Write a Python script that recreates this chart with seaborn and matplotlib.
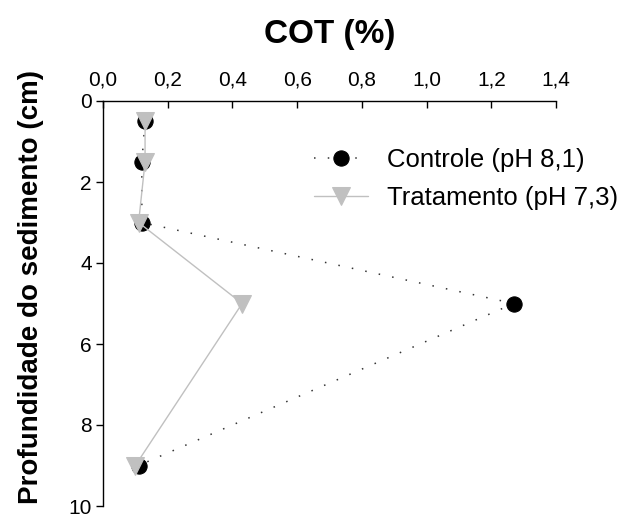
import matplotlib
matplotlib.use("Agg")
import matplotlib.pyplot as plt
import seaborn as sns
import pandas as pd

depth = [0.5, 1.5, 3, 5, 9]
cot_controle = [0.13, 0.12, 0.12, 1.27, 0.11]
cot_tratamento = [0.13, 0.13, 0.11, 0.43, 0.10]
labels = ["Controle (pH 8,1)", "Tratamento (pH 7,3)"]
xticks = [0.0, 0.2, 0.4, 0.6, 0.8, 1.0, 1.2, 1.4]
yticks = [0, 2, 4, 6, 8, 10]

sns.set_style("white")
plt.rcParams['font.family'] = ['Liberation Sans', 'DejaVu Sans']
plt.rcParams['text.color'] = 'black'
plt.rcParams['axes.labelcolor'] = 'black'

fig = plt.figure(figsize=(6.24, 5.15), dpi=100)
ax = fig.add_axes([103/624, 1 - 506/515, (556-103)/624, (506-101)/515])

df_c = pd.DataFrame({"x": cot_controle, "y": depth})
df_t = pd.DataFrame({"x": cot_tratamento, "y": depth})

sns.lineplot(data=df_c, x="x", y="y", orient="y", estimator=None, ax=ax,
             color="#333333", linestyle=(0, (1, 8)), linewidth=1.1,
             marker="o", markersize=11, markerfacecolor="black",
             markeredgecolor="black", label=labels[0])
sns.lineplot(data=df_t, x="x", y="y", orient="y", estimator=None, ax=ax,
             color="#c0c0c0", linestyle="-", linewidth=1.0,
             marker="v", markersize=13, markerfacecolor="#c0c0c0",
             markeredgecolor="#c0c0c0", label=labels[1])

ax.set_xlim(0, 1.4)
ax.set_ylim(10, 0)
ax.xaxis.tick_top()
ax.xaxis.set_label_position("top")
ax.set_xticks(xticks)
ax.set_xticklabels([f"{v:.1f}".replace(".", ",") for v in xticks], fontsize=15, color="black")
ax.set_yticks(yticks)
ax.set_yticklabels([str(v) for v in yticks], fontsize=15, color="black")
ax.tick_params(axis="x", direction="in", length=5, width=1, pad=8, colors="black", top=True, bottom=False)
ax.tick_params(axis="y", direction="out", length=5, width=1, pad=3, colors="black", left=True)
for s in ["right", "bottom"]:
    ax.spines[s].set_visible(False)
for s in ["left", "top"]:
    ax.spines[s].set_color("black")
    ax.spines[s].set_linewidth(1)

ax.set_xlabel("COT (%)", fontsize=24, fontweight="bold", labelpad=20, color="black")
ax.set_ylabel("Profundidade do sedimento (cm)", fontsize=20, fontweight="bold", color="black")
ax.yaxis.set_label_coords((44 - 103) / 453, (506 - 287) / 405)

leg = ax.legend(loc="upper left", bbox_to_anchor=(314/624, 1 - 148/515),
                bbox_transform=fig.transFigure, frameon=False,
                fontsize=18.5, handlelength=2.1, labelspacing=0.55,
                handletextpad=0.75, borderpad=0, borderaxespad=0)
for t in leg.get_texts():
    t.set_color("black")

fig.savefig("out.png", dpi=100)
